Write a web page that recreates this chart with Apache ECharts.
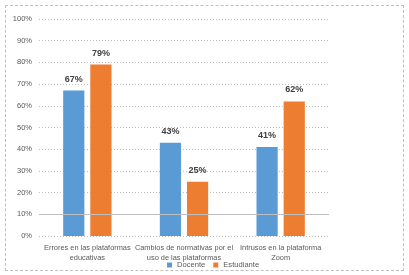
<!DOCTYPE html>
<html>
<head>
<meta charset="utf-8">
<script src="https://cdn.jsdelivr.net/npm/echarts@6/dist/echarts.min.js"></script>
<style>
  html, body { margin: 0; padding: 0; background: #fff; }
  #chart { width: 409px; height: 275px; }
  .frame { position: absolute; left: 5px; top: 5px; width: 397px; height: 264px; border: 1px dashed #bfbfbf; pointer-events: none; }
</style>
</head>
<body>
<div id="chart"></div>
<div class="frame"></div>
<script>
const categories = [
  'Errores en las plataformas\neducativas',
  'Cambios de normativas por el\nuso de las plataformas',
  'Intrusos en la plataforma\nZoom'
]
const docente = [67, 43, 41]
const estudiante = [79, 25, 62]
const yTicks = { min: 0, max: 100, interval: 10 }

const chart = echarts.init(document.getElementById('chart'))

const font = '"Liberation Sans", Arial, sans-serif'

const labelStyle = {
  show: true,
  position: 'top',
  distance: 7,
  formatter: '{c}%',
  color: '#404040',
  fontWeight: 'bold',
  fontSize: 9,
  fontFamily: font
}

chart.setOption({
  animation: false,
  grid: { left: 39, right: 80, top: 19, bottom: 39 },
  legend: {
    bottom: 1,
    left: 162,
    itemWidth: 5,
    itemHeight: 5,
    itemGap: 8,
    textStyle: { color: '#595959', fontSize: 7.6, fontFamily: font },
    data: [
      { name: 'Docente', icon: 'rect' },
      { name: 'Estudiante', icon: 'rect' }
    ]
  },
  xAxis: {
    type: 'category',
    data: categories,
    axisLine: { show: false },
    axisTick: { show: false },
    axisLabel: {
      color: '#595959',
      fontSize: 7.4,
      fontFamily: font,
      lineHeight: 10,
      margin: 7,
      interval: 0
    }
  },
  yAxis: {
    type: 'value',
    min: yTicks.min,
    max: yTicks.max,
    interval: yTicks.interval,
    axisLabel: {
      formatter: '{value}%',
      color: '#595959',
      fontSize: 7.5,
      fontFamily: font,
      margin: 7
    },
    axisLine: { show: false },
    axisTick: { show: false },
    splitLine: { lineStyle: { color: '#bfbfbf', type: [1, 2], width: 1 } }
  },
  series: [
    {
      name: 'Docente',
      type: 'bar',
      data: docente,
      barGap: '28%',
      barCategoryGap: '50%',
      itemStyle: { color: '#5b9bd5' },
      label: labelStyle,
      markLine: {
        silent: true,
        symbol: 'none',
        label: { show: false },
        lineStyle: { color: '#bfbfbf', type: 'solid', width: 1 },
        data: [{ yAxis: 10 }]
      }
    },
    {
      name: 'Estudiante',
      type: 'bar',
      data: estudiante,
      itemStyle: { color: '#ed7d31' },
      label: labelStyle
    }
  ]
})
</script>
</body>
</html>
